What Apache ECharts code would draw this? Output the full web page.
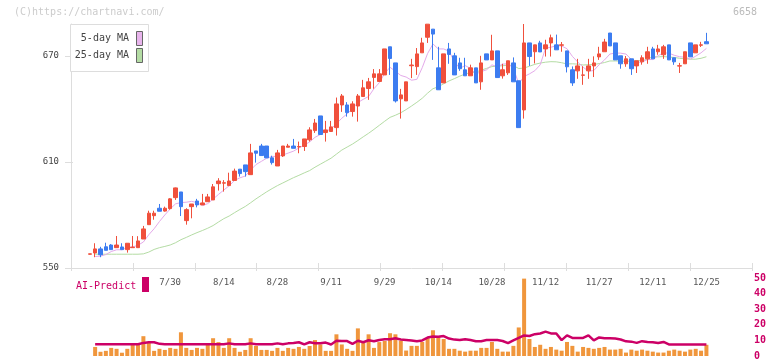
<!DOCTYPE html>
<html><head><meta charset="utf-8">
<script src="https://cdn.jsdelivr.net/npm/echarts@6/dist/echarts.min.js"></script>
<style>html,body{margin:0;padding:0;background:#fff}#c{width:772px;height:361px}</style>
</head><body><div id="c"></div>
<script>
// ---- data (chronological, 2025/7/8 .. 12/25) ----
const dates = ['7/8','7/9','7/10','7/11','7/14','7/15','7/16','7/17','7/18','7/22','7/23','7/24','7/25','7/28','7/29','7/30','7/31',
'8/1','8/4','8/5','8/6','8/7','8/8','8/12','8/13','8/14','8/15','8/18','8/19','8/20','8/21','8/22','8/25','8/26','8/27','8/28','8/29',
'9/1','9/2','9/3','9/4','9/5','9/8','9/9','9/10','9/11','9/12','9/16','9/17','9/18','9/19','9/22','9/24','9/25','9/26','9/29','9/30',
'10/1','10/2','10/3','10/6','10/7','10/8','10/9','10/10','10/14','10/15','10/16','10/17','10/20','10/21','10/22','10/23','10/24','10/27','10/28','10/29','10/30','10/31',
'11/4','11/5','11/6','11/7','11/10','11/11','11/12','11/13','11/14','11/17','11/18','11/19','11/20','11/21','11/25','11/26','11/27','11/28',
'12/1','12/2','12/3','12/4','12/5','12/8','12/9','12/10','12/11','12/12','12/15','12/16','12/17','12/18','12/19','12/22','12/23','12/24','12/25'];
const tickLabels = ['7/30','8/14','8/28','9/11','9/29','10/14','10/28','11/12','11/27','12/11','12/25'];
const priceTicks = [550, 610, 670];
const volumeTicks = [0, 10, 20, 30, 40, 50];

const openP = [557.8,558.5,560.8,562.0,563.0,561.5,561.9,560.4,561.5,561.5,
566.4,574.5,579.6,583.8,582.2,583.6,589.8,593.0,576.8,584.7,
587.9,585.7,587.5,588.5,597.7,598.0,596.6,599.5,605.9,608.3,
602.8,616.2,619.0,619.0,612.3,607.7,613.4,618.3,619.0,618.5,
618.7,622.5,627.7,636.0,626.6,627.2,629.4,642.2,642.2,638.5,
641.6,647.0,651.5,657.8,655.5,659.2,675.1,666.0,645.7,644.5,
664.4,663.9,671.7,680.5,685.1,663.2,654.7,673.9,670.0,666.0,
662.1,658.7,663.2,655.3,671.1,667.7,672.8,658.7,660.4,666.0,
655.9,639.4,677.3,672.3,677.3,673.9,677.3,676.2,676.0,672.8,
662.1,661.5,659.0,661.5,664.3,669.4,672.3,682.9,677.3,670.0,
665.5,668.3,664.3,666.6,668.3,673.9,672.3,670.6,676.2,668.9,
664.2,665.5,677.3,671.7,676.0,678.0];
const closeP = [558.0,560.8,557.5,560.0,560.4,563.0,560.4,564.0,561.8,565.3,
572.1,581.0,581.0,582.1,583.8,589.1,595.3,584.7,583.0,586.2,
585.7,586.8,590.2,595.9,599.2,598.2,599.2,604.8,603.4,604.5,
615.1,614.9,613.6,612.3,609.6,615.1,619.0,619.0,617.7,618.7,
623.0,628.1,632.0,625.5,628.1,629.8,642.8,647.3,637.9,642.8,
647.3,651.9,655.3,659.8,659.8,673.9,668.5,644.5,647.9,655.3,
664.8,671.1,677.3,687.9,682.3,650.8,671.1,670.8,659.2,662.7,
658.7,663.2,654.7,666.0,667.7,672.8,657.7,662.1,667.2,655.3,
629.4,677.3,669.6,676.2,672.2,676.2,680.2,673.4,676.2,663.8,
654.7,664.3,659.2,664.3,666.0,671.1,677.8,675.6,667.7,665.5,
668.3,662.7,667.2,668.9,672.3,668.3,673.9,675.1,667.7,666.6,
664.4,672.3,669.4,676.2,676.2,676.8];
const lowP = [557.6,556.1,556.1,560.0,560.4,561.5,560.4,558.7,561.5,561.5,
566.4,574.5,577.3,582.1,581.9,583.0,588.5,579.4,574.5,578.1,
584.3,585.7,587.5,588.5,593.8,593.2,596.6,599.5,601.7,601.7,
602.8,609.6,613.6,612.3,608.5,607.7,612.8,618.3,617.7,614.9,
616.2,621.5,626.4,625.5,621.5,627.2,624.9,638.3,635.6,635.6,
632.8,647.0,645.1,651.4,655.5,659.2,659.2,643.6,634.5,644.5,
657.4,659.2,671.7,677.3,667.7,650.8,654.7,665.5,659.2,661.5,
658.7,658.7,654.7,650.8,667.7,667.7,657.7,657.1,659.2,655.3,
629.4,634.5,664.3,665.7,672.2,669.6,669.6,673.4,672.3,660.6,
653.0,657.0,653.6,657.0,658.0,667.7,672.3,675.6,667.7,662.7,
663.8,659.2,660.3,665.0,665.5,668.3,670.6,668.3,667.7,664.9,
660.3,665.5,669.4,671.7,675.0,676.8];
const highP = [558.0,564.0,562.0,564.3,563.5,568.1,564.0,564.0,568.1,568.0,
573.8,582.4,582.4,586.2,584.7,589.5,595.5,593.0,583.8,586.2,
589.1,591.9,591.9,597.5,600.8,599.7,603.9,606.2,605.9,608.3,
620.2,616.2,620.2,619.0,613.5,616.8,619.0,620.2,623.0,621.5,
623.0,629.6,634.3,636.0,633.2,633.2,646.4,648.4,643.8,644.3,
648.4,656.4,657.5,662.5,662.5,673.9,675.1,666.0,651.3,655.3,
668.3,674.4,680.2,687.9,685.1,675.1,671.1,677.3,671.7,668.9,
668.9,665.0,663.2,670.0,671.1,681.9,672.8,665.5,667.2,669.1,
655.9,688.0,677.3,676.2,678.5,679.1,682.0,682.0,677.8,672.8,
664.0,668.3,664.1,668.3,669.7,675.1,679.6,682.9,677.3,670.0,
669.9,668.3,667.2,670.3,675.1,675.1,676.2,676.2,676.2,668.9,
666.0,672.3,677.3,676.2,677.9,683.0];
const ma5 = [null,556.5,556.7,557.6,559.3,560.3,560.3,561.6,561.9,562.9,
564.7,568.8,572.2,576.3,580.0,583.4,586.3,587.0,587.2,587.7,
587.0,585.3,586.4,589.0,591.6,594.1,596.5,599.5,601.0,602.0,
605.4,608.5,610.3,612.1,613.1,613.1,613.9,615.0,616.1,617.9,
619.5,621.3,623.9,625.5,627.3,628.7,631.6,634.7,637.2,640.1,
643.6,645.4,647.0,651.4,654.8,660.1,663.5,661.3,658.9,658.0,
656.2,656.7,663.3,671.3,676.7,673.9,673.9,672.6,666.8,662.9,
664.5,662.9,659.7,661.1,662.1,664.9,663.8,665.3,665.5,663.0,
654.3,658.3,659.8,661.6,664.9,674.3,674.9,675.6,675.6,674.0,
669.7,666.5,663.6,661.3,661.7,665.0,667.7,671.0,671.6,671.5,
671.0,668.0,666.3,666.5,667.9,667.9,670.1,671.7,671.5,670.3,
669.5,669.2,668.1,669.8,671.7,674.2];
const ma25 = [null,557.8,557.8,557.8,557.8,557.8,557.8,557.8,557.8,557.8,
558.0,559.0,560.5,561.5,562.2,563.0,564.3,566.0,567.3,568.7,
570.0,571.2,572.5,574.0,576.0,577.9,579.4,581.3,583.1,584.8,
586.9,589.1,591.1,593.1,594.9,596.6,598.1,599.6,601.1,602.4,
603.8,605.1,607.0,608.7,610.4,612.1,614.4,616.7,618.4,620.1,
622.1,624.2,626.2,628.4,630.7,633.0,635.2,636.4,637.8,639.6,
641.6,643.7,646.0,648.9,651.4,652.5,654.2,655.8,657.1,658.5,
659.7,660.5,660.8,661.9,662.9,663.9,664.2,664.4,664.7,664.5,
662.8,663.1,664.1,665.2,665.9,666.4,666.7,666.6,666.1,665.4,
665.5,665.3,664.8,665.0,665.1,665.6,666.2,667.1,667.1,667.0,
666.9,667.1,667.3,667.3,668.0,669.6,669.4,669.6,669.3,669.1,
668.6,668.3,668.1,668.1,668.6,669.5];
const volume = [null,5.8,2.7,3.3,5.2,4.6,2.1,4.6,7.4,7.4,
12.7,8.9,3.3,4.6,3.9,5.2,4.6,15.2,5.2,3.9,
5.2,4.6,7.4,11.4,8.9,5.2,11.4,5.2,2.7,3.9,
11.4,6.4,3.9,3.9,3.3,5.2,3.3,5.2,4.6,5.8,
4.6,6.4,10.2,7.4,3.3,3.3,13.9,7.4,4.6,3.3,
17.7,8.3,13.9,5.2,8.9,9.6,14.6,13.9,9.8,3.5,
6.5,6.5,9.0,11.5,16.5,12.2,10.9,4.6,4.6,3.4,
2.8,3.4,3.4,5.2,5.2,9.0,4.6,2.8,2.8,6.5,
18.3,49.6,10.9,5.8,7.2,4.6,5.8,4.1,3.4,9.0,
6.5,2.8,5.8,5.2,4.6,5.2,5.8,4.1,4.1,4.6,
2.2,4.1,3.4,4.1,3.4,2.8,2.2,2.2,3.4,4.1,
3.4,2.8,4.1,4.6,3.4,7.2];
const aiPredict = [null,7.5,7.5,7.5,7.5,7.5,7.5,7.5,7.5,7.5,
8.4,8.8,8.8,7.8,7.5,7.5,7.5,7.5,7.5,7.5,
7.5,7.5,7.5,7.5,7.5,7.5,8.1,7.5,7.5,7.5,
8.1,7.5,7.5,7.5,7.5,8.1,7.5,8.1,8.4,8.8,
7.4,8.8,8.2,8.2,8.6,7.4,9.8,9.6,9.6,7.8,
9.8,8.8,10.1,9.5,10.3,10.7,10.7,11.4,10.6,10.3,
10.0,9.5,10.0,11.8,12.5,12.3,12.8,11.2,10.5,10.2,
10.8,10.2,9.5,9.5,10.2,10.2,10.2,9.6,8.3,10.0,
11.6,13.2,12.8,14.0,14.4,15.6,14.5,14.4,10.2,13.2,
11.6,11.6,11.6,13.2,10.0,11.9,11.4,11.4,11.2,10.6,
9.4,9.2,8.4,9.5,9.0,8.8,8.3,9.0,7.4,7.3,
7.3,7.3,7.3,7.3,7.3,7.3];

// ---- build padded category space ----
const PAD_L = 3, PAD_R = 8;
const cats = [];
for (let i = 0; i < PAD_L; i++) cats.push('_l' + i);
dates.forEach(d => cats.push(d));
for (let i = 0; i < PAD_R; i++) cats.push('_r' + i);
const pad = arr => { const o = []; for (let i = 0; i < PAD_L; i++) o.push(null); arr.forEach(v => o.push(v)); for (let i = 0; i < PAD_R; i++) o.push(null); return o; };
const kData = dates.map((d, i) => [i + PAD_L, openP[i], closeP[i], lowP[i], highP[i]]);
const labelSet = new Set(tickLabels);

const MONO = '"DejaVu Sans Mono", "Liberation Mono", monospace';
const UP = '#f0503c', DOWN = '#3c7cf0', AI = '#cc0066';
const GL = 71, GW = 681;

const chart = echarts.init(document.getElementById('c'));
chart.setOption({
  animation: false,
  backgroundColor: '#fff',
  grid: [
    { left: GL, width: GW, top: 24, height: 244 },
    { left: GL, width: GW, top: 278, height: 80 }
  ],
  xAxis: [
    { type: 'category', gridIndex: 0, data: cats, boundaryGap: true, position: 'bottom',
      axisLine: { show: false }, axisTick: { show: false }, splitLine: { show: false },
      axisLabel: { interval: (idx, val) => labelSet.has(val), margin: 10, fontSize: 9, fontFamily: MONO, color: '#555' } },
    { type: 'value', gridIndex: 0, min: 0, max: 11, interval: 1, position: 'bottom',
      axisLine: { show: true, onZero: false, lineStyle: { color: '#ddd', width: 1 } },
      axisTick: { show: true, inside: true, length: 5, lineStyle: { color: '#ddd' } },
      axisLabel: { show: false }, splitLine: { show: false } },
    { type: 'value', gridIndex: 0, min: 0, max: 11, interval: 1, position: 'bottom',
      axisLine: { show: false, onZero: false },
      axisTick: { show: true, inside: false, length: 3, lineStyle: { color: '#ddd' } },
      axisLabel: { show: false }, splitLine: { show: false } },
    { type: 'category', gridIndex: 1, data: cats, boundaryGap: true, show: false }
  ],
  yAxis: [
    { type: 'value', gridIndex: 0, min: 550, max: 688, position: 'left',
      axisLine: { show: true, lineStyle: { color: '#ddd' } },
      axisTick: { show: true, length: 6, customValues: priceTicks, lineStyle: { color: '#ddd' } },
      axisLabel: { customValues: priceTicks, margin: 12, fontSize: 9, fontFamily: MONO, color: '#444' },
      splitLine: { show: false } },
    { type: 'value', gridIndex: 0, min: 550, max: 688, position: 'left',
      axisLine: { show: false },
      axisTick: { show: true, inside: true, length: 2, customValues: priceTicks, lineStyle: { color: '#ddd' } },
      axisLabel: { show: false }, splitLine: { show: false } },
    { type: 'value', gridIndex: 1, min: 0, max: 50, position: 'right',
      axisLine: { show: false }, axisTick: { show: false }, splitLine: { show: false },
      axisLabel: { customValues: volumeTicks, margin: 2, fontSize: 10, fontWeight: 'bold', fontFamily: MONO, color: AI } }
  ],
  series: [
    { name: '25-day MA', type: 'line', xAxisIndex: 0, yAxisIndex: 0, data: pad(ma25), showSymbol: false,
      lineStyle: { color: '#b4dca4', width: 1 }, z: 1 },
    { name: '5-day MA', type: 'line', xAxisIndex: 0, yAxisIndex: 0, data: pad(ma5), showSymbol: false,
      lineStyle: { color: '#e4aaea', width: 1 }, z: 1 },
    { type: 'candlestick', xAxisIndex: 0, yAxisIndex: 0, data: kData,
      dimensions: ['idx', 'open', 'close', 'lowest', 'highest'],
      encode: { x: 'idx', y: ['open', 'close', 'lowest', 'highest'] },
      barWidth: 4, z: 3,
      itemStyle: { color: UP, color0: DOWN, borderColor: UP, borderColor0: DOWN, borderColorDoji: UP, borderWidth: 1 } },
    { type: 'bar', xAxisIndex: 3, yAxisIndex: 2, data: pad(volume), barWidth: 4,
      itemStyle: { color: '#f0963c' }, z: 2 },
    { type: 'line', xAxisIndex: 3, yAxisIndex: 2, data: pad(aiPredict), showSymbol: false,
      lineStyle: { color: AI, width: 2.5 }, z: 4 }
  ],
  graphic: [
    { type: 'text', left: 14, top: 7, z: 50, style: { text: '(C)https://chartnavi.com/', fill: '#cccccc', font: '10px ' + MONO } },
    { type: 'text', right: 15, top: 7, z: 50, style: { text: '6658', fill: '#bbbbbb', font: '10px ' + MONO } },
    { type: 'rect', z: 50, shape: { x: 70.5, y: 24.5, width: 78, height: 47 }, style: { fill: '#fff', stroke: '#dddddd', lineWidth: 1 } },
    { type: 'text', z: 51, x: 129, y: 38.5, style: { text: '5-day MA', fill: '#444', font: '10px ' + MONO, textAlign: 'right', textVerticalAlign: 'middle' } },
    { type: 'text', z: 51, x: 129, y: 55.5, style: { text: '25-day MA', fill: '#444', font: '10px ' + MONO, textAlign: 'right', textVerticalAlign: 'middle' } },
    { type: 'rect', z: 51, shape: { x: 136.5, y: 31.5, width: 6, height: 14 }, style: { fill: '#e8b4ec', stroke: '#666', lineWidth: 1 } },
    { type: 'rect', z: 51, shape: { x: 136.5, y: 48.5, width: 6, height: 14 }, style: { fill: '#b4dca4', stroke: '#666', lineWidth: 1 } },
    { type: 'text', z: 51, x: 76, y: 286, style: { text: 'AI-Predict', fill: AI, font: '10px ' + MONO, textVerticalAlign: 'middle' } },
    { type: 'rect', z: 51, shape: { x: 142, y: 277, width: 7, height: 15 }, style: { fill: AI } }
  ]
});
</script>
</body></html>
